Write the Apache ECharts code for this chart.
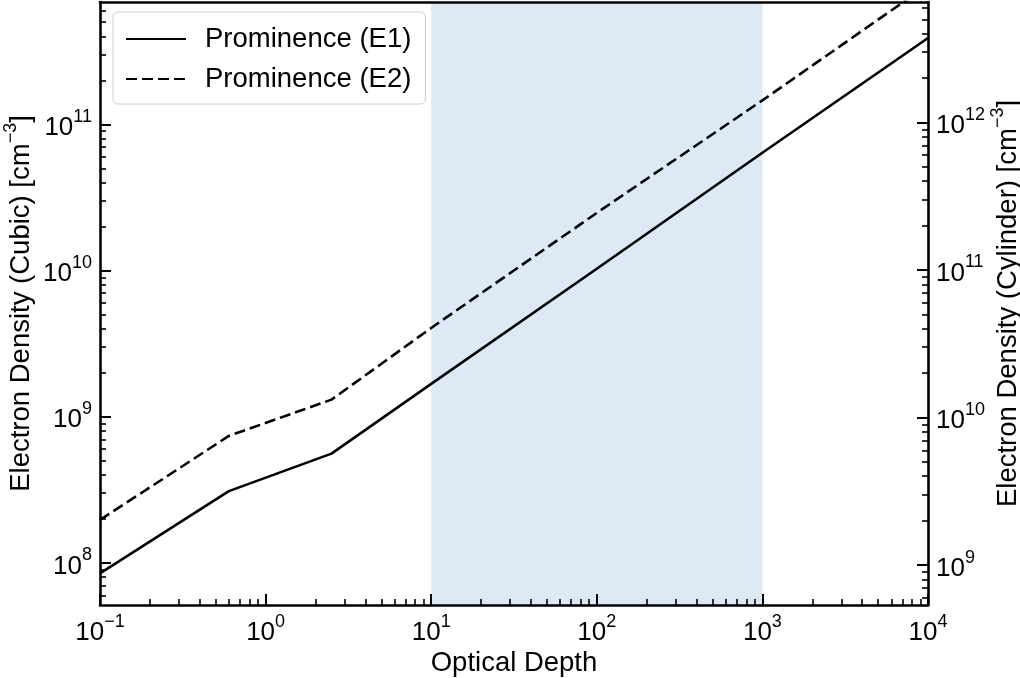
<!DOCTYPE html>
<html>
<head>
<meta charset="utf-8">
<script src="https://cdn.jsdelivr.net/npm/echarts@6/dist/echarts.min.js"></script>
<style>html,body{margin:0;padding:0;background:#fff}#c{width:1020px;height:678px}</style>
</head>
<body>
<div id="c"></div>
<script>
// ---- data ----
const xVals = [0.1, 0.6, 2.5, 10, 100, 1000, 10000];
const e1Vals = [8.5e7, 3.1e8, 5.6e8, 1.68e9, 1.03e10, 6.4e10, 3.9e11];
const e2Vals = [1.97e8, 7.4e8, 1.31e9, 4.05e9, 2.48e10, 1.46e11, 9.0e11];
const seriesNames = ['Prominence (E1)', 'Prominence (E2)'];
const shadeRange = [10, 1000];
const xRange = [0.1, 10000];
const yLeftRange = [5.16e7, 6.87e11];
const yRightRange = [5.36e8, 6.56e12];
const xMajorExp = [-1, 0, 1, 2, 3, 4];
const yLeftMajorExp = [8, 9, 10, 11];
const yRightMajorExp = [9, 10, 11, 12];
const xTitle = 'Optical Depth';
const yLeftTitle = ['Electron Density (Cubic) [cm', '−3', ']'];
const yRightTitle = ['Electron Density (Cylinder) [cm', '−3', ']'];

const FONT = 'Liberation Sans';
const L10 = Math.log10;
function minorLogs(range) {
  const lo = L10(range[0]), hi = L10(range[1]);
  const out = [];
  for (let n = Math.floor(lo); n <= Math.ceil(hi); n++) {
    for (let k = 2; k <= 9; k++) {
      const v = n + L10(k);
      if (v > lo && v < hi) out.push(v);
    }
  }
  return out;
}
function expLabel(v) {
  const e = Math.round(v);
  return '{b|10}{s|' + (e < 0 ? '−' + (-e) : e) + '}';
}
const labelRich = {
  b: {fontSize: 26, lineHeight: 33, verticalAlign: 'bottom', fontFamily: FONT, color: '#000'},
  s: {fontSize: 18, verticalAlign: 'top', fontFamily: FONT, color: '#000'}
};
const nameRich = {
  n: {fontSize: 27.5, lineHeight: 33, verticalAlign: 'bottom', fontFamily: FONT, color: '#000'},
  s: {fontSize: 18, verticalAlign: 'top', fontFamily: FONT, color: '#000'}
};
const spine = {show: true, onZero: false, lineStyle: {color: '#000', width: 2.6}};
const noLine = {show: false, onZero: false};

function overlayAxis(pos, range, majors, opts) {
  return Object.assign({
    type: 'value', position: pos, min: L10(range[0]), max: L10(range[1]), z: 10,
    axisLine: spine,
    axisTick: {show: true, inside: true, length: 11, customValues: majors, lineStyle: {color: '#000', width: 2}},
    axisLabel: {show: true, customValues: majors, margin: 8, formatter: expLabel, rich: labelRich},
    splitLine: {show: false}
  }, opts || {});
}
function minorAxis(pos, range) {
  const mv = minorLogs(range);
  return {
    type: 'value', position: pos, min: L10(range[0]), max: L10(range[1]), z: 10,
    axisLine: noLine,
    axisTick: {show: true, inside: true, length: 6, customValues: mv, lineStyle: {color: '#000', width: 1.6}},
    axisLabel: {show: false, customValues: mv},
    splitLine: {show: false}
  };
}

const chart = echarts.init(document.getElementById('c'), null, {renderer: 'canvas'});
const option = {
  animation: false,
  backgroundColor: '#fff',
  textStyle: {fontFamily: FONT},
  grid: {left: 100, right: 92, top: 2, bottom: 73, containLabel: false, outerBoundsMode: 'none'},
  legend: {
    data: seriesNames,
    orient: 'vertical', left: 113, top: 12,
    padding: [13, 14, 11, 12], itemGap: 12,
    itemWidth: 60, itemHeight: 14,
    itemStyle: {opacity: 0},
    backgroundColor: 'rgba(255,255,255,0.8)',
    borderColor: '#cccccc', borderWidth: 1, borderRadius: 5,
    textStyle: {fontSize: 27.5, color: '#000', fontFamily: FONT, padding: [0, 0, 0, 14]}
  },
  xAxis: [
    {type: 'log', logBase: 10, min: xRange[0], max: xRange[1], show: false},
    overlayAxis('bottom', xRange, xMajorExp, {
      name: xTitle, nameLocation: 'middle', nameGap: 44, nameMoveOverlap: false,
      nameTextStyle: {fontSize: 27.5, color: '#000', fontFamily: FONT}
    }),
    minorAxis('bottom', xRange),
    {type: 'value', position: 'top', min: 0, max: 1, z: 10, axisLine: spine,
     axisTick: {show: false}, axisLabel: {show: false}, splitLine: {show: false}}
  ],
  yAxis: [
    {type: 'log', logBase: 10, min: yLeftRange[0], max: yLeftRange[1], show: false},
    overlayAxis('left', yLeftRange, yLeftMajorExp, {
      name: '{n|' + yLeftTitle[0] + '}{s|' + yLeftTitle[1] + '}{n|' + yLeftTitle[2] + '}',
      nameLocation: 'middle', nameGap: 65, nameRotate: 90, nameMoveOverlap: false,
      nameTextStyle: {rich: nameRich}
    }),
    minorAxis('left', yLeftRange),
    overlayAxis('right', yRightRange, yRightMajorExp, {
      name: '{n|' + yRightTitle[0] + '}{s|' + yRightTitle[1] + '}{n|' + yRightTitle[2] + '}',
      nameLocation: 'middle', nameGap: 61, nameRotate: 90, nameMoveOverlap: false,
      nameTextStyle: {rich: nameRich}
    }),
    minorAxis('right', yRightRange)
  ],
  series: [
    {
      name: 'shade', type: 'line', xAxisIndex: 0, yAxisIndex: 0, data: [], z: 1,
      silent: true,
      markArea: {silent: true, itemStyle: {color: '#dde9f5'},
        data: [[{xAxis: shadeRange[0]}, {xAxis: shadeRange[1]}]]}
    },
    {
      name: seriesNames[0], type: 'line', xAxisIndex: 0, yAxisIndex: 0, z: 3,
      symbol: 'none', clip: true,
      lineStyle: {color: '#000', width: 2.6, type: 'solid'},
      itemStyle: {color: '#000'},
      data: xVals.map((x, i) => [x, e1Vals[i]])
    },
    {
      name: seriesNames[1], type: 'line', xAxisIndex: 0, yAxisIndex: 0, z: 3,
      symbol: 'none', clip: true,
      lineStyle: {color: '#000', width: 2.6, type: [11, 5]},
      itemStyle: {color: '#000'},
      data: xVals.map((x, i) => [x, e2Vals[i]])
    }
  ]
};
chart.setOption(option);
</script>
</body>
</html>
